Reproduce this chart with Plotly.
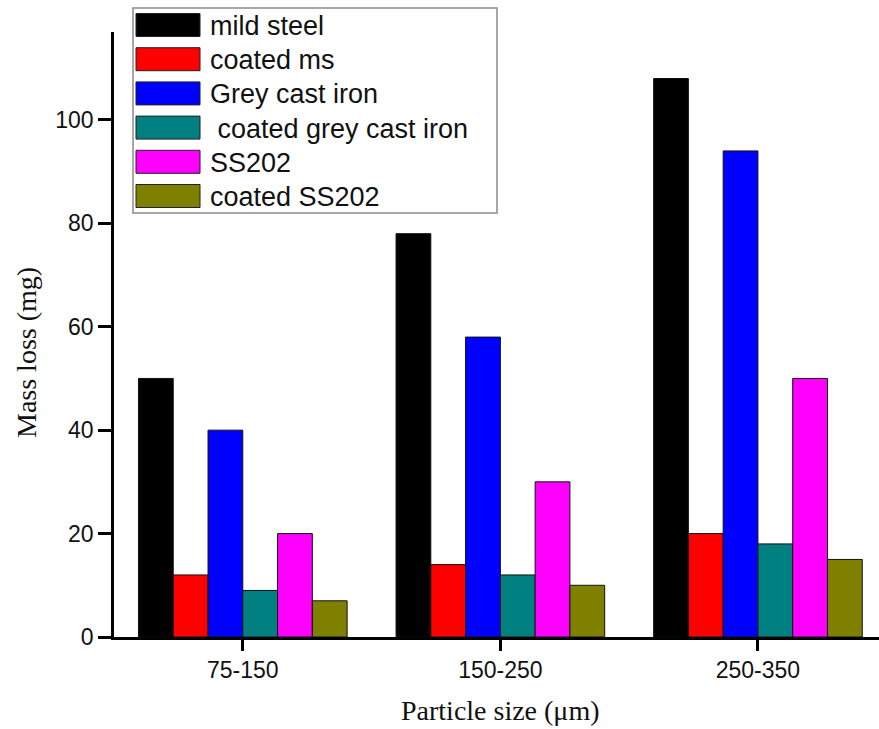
import plotly.graph_objects as go

# Particle size ranges (categories on the x axis)
size_ranges = ["75-150", "150-250", "250-350"]

# Mass loss (mg) for each material
mild_steel = [50, 78, 108]
coated_ms = [12, 14, 20]
grey_cast_iron = [40, 58, 94]
coated_grey_cast_iron = [9, 12, 18]
ss202 = [20, 30, 50]
coated_ss202 = [7, 10, 15]

series_names = ["mild steel", "coated ms", "Grey cast iron",
                " coated grey cast iron", "SS202", "coated SS202"]
series_values = [mild_steel, coated_ms, grey_cast_iron,
                 coated_grey_cast_iron, ss202, coated_ss202]
series_colors = ["#000000", "#FF0000", "#0000FF", "#008080", "#FF00FF", "#808000"]

y_ticks = [0, 20, 40, 60, 80, 100]

W, H = 879, 729
ML, MR, MT, MB = 114, 0, 32, 92
PW = W - ML - MR
PH = H - MT - MB


def px_x(px):
    return (px - ML) / PW


def px_y(py):
    return (H - MB - py) / PH


fig = go.Figure()
for name, vals, col in zip(series_names, series_values, series_colors):
    fig.add_trace(go.Bar(
        x=size_ranges, y=vals, name=name.strip(),
        marker=dict(color=col, line=dict(color="#111111", width=1)),
        showlegend=False,
    ))

# Boxed legend with wide colour swatches
shapes = [dict(type="rect", xref="paper", yref="paper",
               x0=px_x(133), x1=px_x(497), y0=px_y(213), y1=px_y(8),
               line=dict(color="#8a8a8a", width=1.5), fillcolor="white", layer="above")]
annotations = []
row0, pitch = 25, 34.2
for i, (name, col) in enumerate(zip(series_names, series_colors)):
    cy = row0 + pitch * i
    shapes.append(dict(type="rect", xref="paper", yref="paper",
                       x0=px_x(136), x1=px_x(200), y0=px_y(cy + 11.5), y1=px_y(cy - 11.5),
                       fillcolor=col, line=dict(color="#222222", width=1), layer="above"))
    annotations.append(dict(xref="paper", yref="paper", x=px_x(208), y=px_y(cy + 1),
                            xanchor="left", yanchor="middle", showarrow=False,
                            text=name.replace(" ", "&nbsp;", 1) if name.startswith(" ") else name,
                            font=dict(family="Liberation Sans, Arial", size=27, color="#111111")))

# Axis titles
annotations.append(dict(xref="paper", yref="paper", x=px_x(26), y=px_y(353),
                        text="Mass loss (mg)", textangle=-90, showarrow=False,
                        xanchor="center", yanchor="middle",
                        font=dict(family="Liberation Serif, Times New Roman", size=28, color="#111111")))
annotations.append(dict(xref="paper", yref="paper", x=px_x(500), y=px_y(710),
                        text="Particle size (\u03bcm)", showarrow=False,
                        xanchor="center", yanchor="middle",
                        font=dict(family="Liberation Serif, Times New Roman", size=28, color="#111111")))

fig.update_layout(
    width=W, height=H,
    margin=dict(l=ML, r=MR, t=MT, b=MB, pad=0),
    paper_bgcolor="white", plot_bgcolor="white",
    barmode="group", bargap=0.19, bargroupgap=0,
    shapes=shapes, annotations=annotations,
    xaxis=dict(
        type="category", range=[-0.5, 2.47],
        showline=True, linecolor="black", linewidth=2.5,
        ticks="outside", ticklen=11, tickwidth=2.5, tickcolor="black",
        showgrid=False, zeroline=False,
        tickfont=dict(family="Liberation Sans, Arial", size=23, color="#111111"),
    ),
    yaxis=dict(
        range=[0, 117], tickvals=y_ticks,
        showline=True, linecolor="black", linewidth=2.5,
        ticks="outside", ticklen=13, tickwidth=2.5, tickcolor="black",
        showgrid=False, zeroline=False,
        tickfont=dict(family="Liberation Sans, Arial", size=23, color="#111111"),
    ),
)

fig.write_html("out.html")
